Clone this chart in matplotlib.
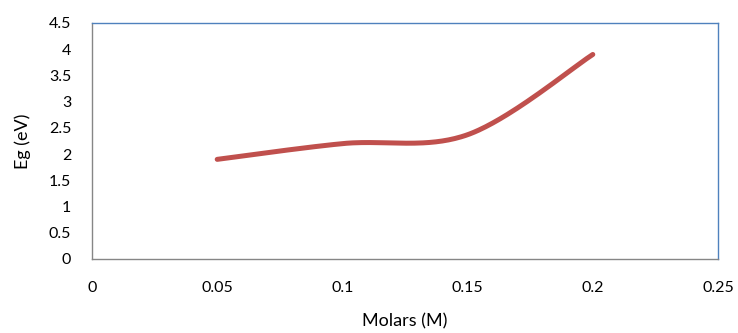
import numpy as np
import matplotlib
matplotlib.use("Agg")
import matplotlib.pyplot as plt

molar = [0.05, 0.10, 0.15, 0.20]
eg = [1.90, 2.20, 2.37, 3.90]
xticks = [0, 0.05, 0.1, 0.15, 0.2, 0.25]
xticklabels = ["0", "0.05", "0.1", "0.15", "0.2", "0.25"]
yticks = [0, 0.5, 1, 1.5, 2, 2.5, 3, 3.5, 4, 4.5]
yticklabels = ["0", "0.5", "1", "1.5", "2", "2.5", "3", "3.5", "4", "4.5"]


def excel_smooth(x, y, n=60):
    P = np.column_stack([x, y]).astype(float)
    m = len(P)
    out = []
    for i in range(m - 1):
        p0 = P[i - 1] if i > 0 else P[i]
        p1 = P[i]
        p2 = P[i + 1]
        p3 = P[i + 2] if i + 2 < m else P[i + 1]
        c1 = p1 + (p2 - p0) / 6.0
        c2 = p2 - (p3 - p1) / 6.0
        t = np.linspace(0, 1, n)[:, None]
        seg = ((1 - t) ** 3) * p1 + 3 * ((1 - t) ** 2) * t * c1 + 3 * (1 - t) * t ** 2 * c2 + t ** 3 * p2
        out.append(seg if i == 0 else seg[1:])
    s = np.vstack(out)
    return s[:, 0], s[:, 1]


plt.rcParams['font.family'] = ['Lato', 'DejaVu Sans']
fig = plt.figure(figsize=(7.38, 3.33), dpi=100)
ax = fig.add_axes([92 / 738, 1 - 259 / 333, (718 - 92) / 738, (259 - 23) / 333])

sx, sy = excel_smooth(molar, eg)
ax.plot(sx, sy, color="#C0504D", lw=3.6, solid_capstyle="round")

ax.set_xlim(0, 0.25)
ax.set_ylim(0, 4.5)
ax.set_xticks(xticks)
ax.set_xticklabels(xticklabels)
ax.set_yticks(yticks)
ax.set_yticklabels(yticklabels)
ax.tick_params(length=0, labelsize=11.5, colors="#000000")
ax.tick_params(axis="y", pad=15)
ax.tick_params(axis="x", pad=16)
for s in ["left", "bottom"]:
    ax.spines[s].set_color("#868686")
for s in ["top", "right"]:
    ax.spines[s].set_color("#4F81BD")
for s in ax.spines.values():
    s.set_linewidth(1.0)

ax.set_xlabel("Molars (M)", fontsize=13, labelpad=13)
ax.set_ylabel("Eg (eV)", fontsize=13, labelpad=13)

fig.savefig("out.png", dpi=100)
